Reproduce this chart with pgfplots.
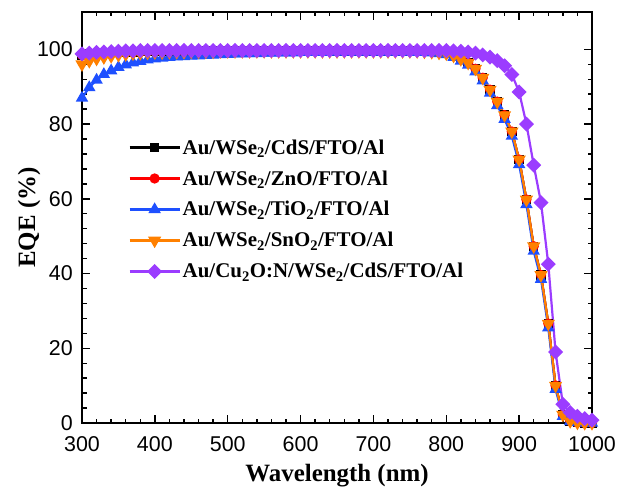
\documentclass[border=0pt]{standalone}
\usepackage{pgfplots}
\pgfplotsset{compat=1.18}
\usepackage{pgfplotstable}
\usepackage{fontspec}
\setmainfont{Liberation Serif}
\newfontfamily\arial{Liberation Sans}

\definecolor{cBlue}{RGB}{30,80,255}
\definecolor{cOrange}{RGB}{255,128,0}
\definecolor{cPurple}{RGB}{155,60,255}

\pgfplotstableread{
x cds zno tio sno cu
300 98.4 98.5 87.0 96.0 98.8
310 98.7 98.8 89.8 96.9 99.0
320 98.9 99.0 91.8 97.5 99.2
330 99.0 99.1 93.3 97.9 99.3
340 99.1 99.2 94.3 98.2 99.4
350 99.2 99.3 95.2 98.5 99.5
360 99.3 99.3 95.9 98.7 99.6
370 99.3 99.4 96.4 98.9 99.6
380 99.4 99.4 96.8 99.0 99.7
390 99.4 99.5 97.2 99.1 99.7
400 99.5 99.5 97.5 99.2 99.7
410 99.5 99.5 97.7 99.2 99.7
420 99.5 99.5 97.9 99.3 99.7
430 99.5 99.5 98.0 99.3 99.7
440 99.5 99.6 98.1 99.3 99.7
450 99.5 99.6 98.2 99.4 99.7
460 99.5 99.6 98.3 99.4 99.7
470 99.6 99.6 98.4 99.4 99.7
480 99.6 99.6 98.5 99.4 99.7
490 99.6 99.6 98.6 99.5 99.7
500 99.6 99.6 98.7 99.5 99.7
510 99.6 99.6 98.8 99.5 99.7
520 99.6 99.6 98.8 99.5 99.7
530 99.6 99.6 98.9 99.5 99.7
540 99.6 99.6 98.9 99.5 99.7
550 99.6 99.6 99.0 99.5 99.7
560 99.6 99.6 99.0 99.5 99.7
570 99.6 99.6 99.1 99.5 99.7
580 99.6 99.6 99.1 99.5 99.7
590 99.6 99.6 99.1 99.5 99.7
600 99.6 99.6 99.2 99.5 99.7
610 99.6 99.6 99.2 99.5 99.7
620 99.6 99.6 99.2 99.5 99.7
630 99.6 99.6 99.2 99.5 99.7
640 99.6 99.6 99.3 99.5 99.7
650 99.6 99.6 99.3 99.5 99.7
660 99.6 99.6 99.3 99.5 99.7
670 99.6 99.6 99.3 99.5 99.7
680 99.6 99.6 99.3 99.5 99.7
690 99.6 99.6 99.3 99.5 99.7
700 99.6 99.6 99.3 99.5 99.7
710 99.6 99.6 99.3 99.5 99.7
720 99.6 99.6 99.3 99.5 99.7
730 99.6 99.6 99.3 99.5 99.7
740 99.6 99.6 99.3 99.5 99.7
750 99.6 99.6 99.3 99.5 99.7
760 99.5 99.5 99.2 99.5 99.7
770 99.5 99.5 99.2 99.4 99.7
780 99.4 99.4 99.1 99.3 99.7
790 99.2 99.2 98.9 99.1 99.7
800 98.9 98.9 98.6 98.9 99.7
810 98.3 98.3 97.9 98.3 99.6
820 97.4 97.4 96.9 97.4 99.5
830 96.4 96.4 95.8 96.4 99.3
840 94.8 94.8 94.0 94.8 99.0
850 92.4 92.4 91.6 92.4 98.5
860 89.2 89.2 88.3 89.2 97.9
870 86.0 86.0 85.0 86.0 97.0
880 82.4 82.4 81.3 82.4 95.6
890 78.0 78.0 76.8 78.0 93.3
900 70.5 70.5 69.2 70.5 88.6
910 59.8 59.8 58.5 59.8 80.0
920 47.3 47.3 46.0 47.3 69.0
930 39.6 39.6 38.5 39.6 59.0
940 26.6 26.6 25.5 26.6 42.5
950 10.0 10.0 9.0 10.0 19.0
960 2.2 2.2 1.8 2.2 5.0
970 0.5 0.5 0.4 0.5 2.8
980 0.1 0.1 0.1 0.1 1.8
990 0.0 0.0 0.0 0.0 1.2
1000 0.0 0.0 0.0 0.0 0.8
}\data

\begin{document}
\begin{tikzpicture}
  \begin{axis}[
    scale only axis,
    width=510bp, height=411bp,
    xmin=300, xmax=1000,
    ymin=0, ymax=110,
    xtick={300,400,...,1000},
    ytick={0,20,...,100},
    minor x tick num=4,
    minor y tick num=4,
    tick align=inside,
    major tick length=8bp,
    minor tick length=4.5bp,
    every tick/.style={black, line width=1.4bp},
    axis line style={line width=2bp},
    ticklabel style={font=\arial\fontsize{21.5}{21.5}\selectfont, inner sep=0pt},
    xticklabel style={yshift=-13bp},
    yticklabel style={xshift=-9bp},
    /pgf/number format/assume math mode=true,
    /pgf/number format/set thousands separator={},
    xlabel={Wavelength (nm)},
    ylabel={EQE (\%)},
    label style={font=\bfseries\fontsize{25}{28}\selectfont},
    xlabel style={yshift=-9bp},
    ylabel style={yshift=-7bp},
    legend cell align=left,
    legend style={at={(rel axis cs:0.085,0.70)}, anchor=north west,
      draw=none, fill=none, font=\bfseries\fontsize{21}{24}\selectfont,
      row sep=11bp},
    legend image code/.code={
      \draw[mark repeat=2,mark phase=2] plot coordinates {(0bp,0bp)(25bp,0bp)(50bp,0bp)};},
    every axis plot/.append style={line width=2.2bp},
    name=ax
  ]
  \addplot[black, mark=square*, mark size=3.6bp] table[x=x,y=cds]{\data};
  \addplot[red, mark=*, mark size=4bp] table[x=x,y=zno]{\data};
  \addplot[cBlue, mark=triangle*, mark size=5bp] table[x=x,y=tio]{\data};
  \addplot[cOrange, mark=triangle*, mark size=5.5bp, mark options={rotate=180}] table[x=x,y=sno]{\data};
  \addplot[cPurple, mark=square*, mark size=4.2bp, mark options={rotate=45}] table[x=x,y=cu]{\data};
  \legend{Au/WSe\textsubscript{2}/CdS/FTO/Al,
          Au/WSe\textsubscript{2}/ZnO/FTO/Al,
          Au/WSe\textsubscript{2}/TiO\textsubscript{2}/FTO/Al,
          Au/WSe\textsubscript{2}/SnO\textsubscript{2}/FTO/Al,
          Au/Cu\textsubscript{2}O:N/WSe\textsubscript{2}/CdS/FTO/Al}
  \end{axis}
  \path ([shift={(-82bp,-69bp)}]ax.south west) rectangle ([shift={(27bp,12bp)}]ax.north east);
\end{tikzpicture}
\end{document}
